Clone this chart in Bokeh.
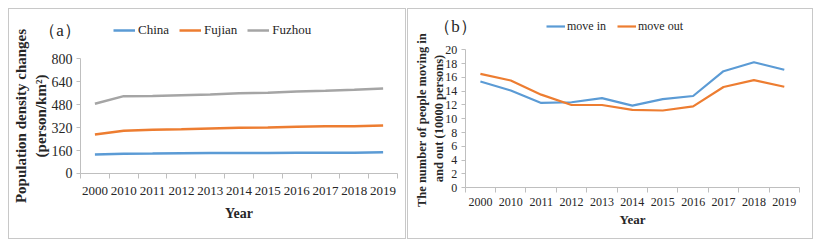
from bokeh.plotting import figure
from bokeh.layouts import row, column
from bokeh.models import FixedTicker, Legend, LegendItem, Label, Range1d, Spacer
from bokeh.embed import file_html
from bokeh.resources import INLINE

years = ["2000", "2010", "2011", "2012", "2013", "2014", "2015", "2016", "2017", "2018", "2019"]
china = [132, 138, 139, 141, 142, 143, 143, 144, 144, 145, 148]
fujian = [271, 297, 304, 308, 313, 318, 320, 325, 329, 329, 334]
fuzhou = [485, 538, 540, 545, 550, 559, 561, 570, 575, 582, 591]
move_in = [15.4, 14.1, 12.3, 12.4, 13.0, 11.9, 12.85, 13.3, 16.9, 18.2, 17.1]
move_out = [16.5, 15.55, 13.5, 12.0, 12.0, 11.3, 11.2, 11.8, 14.6, 15.6, 14.65]

BLUE, ORANGE, GRAY = "#5B9BD5", "#ED7D31", "#A5A5A5"
FONT = "Liberation Serif"
AXC = "#BFBFBF"
TXT = "#262626"

xs = list(range(len(years)))


def make(width, xr, yr, yticks, ymax, ylabel, sizes):
    (xtick_fs, xlab_so, xtitle_fs, xtitle_so, ytick_fs, ytitle_fs, ytitle_so) = sizes
    p = figure(width=width, height=231, output_backend="svg", toolbar_location=None,
               min_border_left=0, min_border_right=0, min_border_top=0, min_border_bottom=0,
               x_range=Range1d(*xr), y_range=Range1d(*yr))
    p.xgrid.visible = False
    p.ygrid.visible = False
    p.outline_line_color = None
    p.background_fill_color = "white"
    p.border_fill_color = "white"
    xa = p.xaxis[0]
    xa.fixed_location = 0
    xa.bounds = (-0.5, len(years) - 0.5)
    xa.ticker = FixedTicker(ticks=xs, minor_ticks=[i - 0.5 for i in range(len(years) + 1)])
    xa.major_label_overrides = {i: y for i, y in enumerate(years)}
    xa.major_tick_out = 0
    xa.major_tick_in = 0
    xa.minor_tick_out = 5
    xa.minor_tick_in = 0
    xa.minor_tick_line_color = AXC
    xa.axis_line_color = AXC
    xa.major_label_text_font = FONT
    xa.major_label_text_font_size = xtick_fs
    xa.major_label_text_color = TXT
    xa.major_label_standoff = xlab_so
    xa.axis_label = "Year"
    xa.axis_label_text_font = FONT
    xa.axis_label_text_font_style = "bold"
    xa.axis_label_text_font_size = xtitle_fs
    xa.axis_label_text_color = TXT
    xa.axis_label_standoff = xtitle_so
    ya = p.yaxis[0]
    ya.fixed_location = -0.5
    ya.bounds = (0, ymax)
    ya.ticker = FixedTicker(ticks=yticks)
    ya.minor_tick_line_color = None
    ya.major_tick_out = 4
    ya.major_tick_in = 0
    ya.major_tick_line_color = AXC
    ya.axis_line_color = AXC
    ya.major_label_text_font = FONT
    ya.major_label_text_font_size = ytick_fs
    ya.major_label_text_color = TXT
    ya.major_label_standoff = 4
    ya.axis_label = ylabel
    ya.axis_label_text_font = FONT
    ya.axis_label_text_font_style = "bold"
    ya.axis_label_text_font_size = ytitle_fs
    ya.axis_label_text_color = TXT
    ya.axis_label_standoff = ytitle_so
    p.styles = {"border": "1px solid #C8C8C8"}
    return p


# ---- panel (a)
pa = make(398, (-2.964, 10.846), (-466.1, 1140.9), list(range(0, 801, 160)), 800,
          "Population density changes\n(person/km²)",
          ("13px", 9, "14px", 7, "14px", "15px", 0))
ra = pa.line(xs, china, line_color=BLUE, line_width=2.5)
rb = pa.line(xs, fujian, line_color=ORANGE, line_width=2.5)
rc = pa.line(xs, fuzhou, line_color=GRAY, line_width=2.5)
lega = Legend(items=[LegendItem(label="China", renderers=[ra]),
                     LegendItem(label="Fujian", renderers=[rb]),
                     LegendItem(label="Fuzhou", renderers=[rc])],
              orientation="horizontal", location=(104, 200), padding=0, margin=0,
              spacing=10, glyph_width=22, label_standoff=3,
              border_line_color=None, background_fill_alpha=0,
              label_text_font=FONT, label_text_font_size="13px", label_text_color=TXT)
pa.add_layout(lega, "center")
pa.add_layout(Label(x=-1.93, y=995, text="（a）",
                    text_font=FONT, text_font_size="17px", text_baseline="middle",
                    text_color=TXT))

# ---- panel (b)
pb = make(406, (-2.366, 10.994), (-7.64, 25.84), list(range(0, 21, 2)), 20,
          "The number  of people moving in\nand out (10000 persons)",
          ("12px", 5, "13px", 3, "12px", "12.5px", -3))
r1 = pb.line(xs, move_in, line_color=BLUE, line_width=2.2)
r2 = pb.line(xs, move_out, line_color=ORANGE, line_width=2.2)
legb = Legend(items=[LegendItem(label="move in", renderers=[r1]),
                     LegendItem(label="move out", renderers=[r2])],
              orientation="horizontal", location=(138, 204), padding=0, margin=0,
              spacing=11, glyph_width=19, label_standoff=2,
              border_line_color=None, background_fill_alpha=0,
              label_text_font=FONT, label_text_font_size="12px", label_text_color=TXT)
pb.add_layout(legb, "center")
pb.add_layout(Label(x=-1.52, y=23.33, text="（b）",
                    text_font=FONT, text_font_size="17px", text_baseline="middle",
                    text_color=TXT))

layout = column(Spacer(height=8), row(Spacer(width=8), pa, Spacer(width=1), pb))
open("out.html", "w").write(file_html(layout, INLINE))
